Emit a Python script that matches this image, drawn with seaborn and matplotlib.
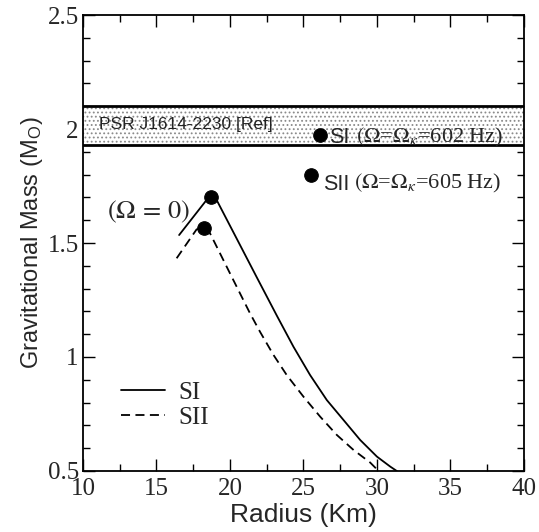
import matplotlib
matplotlib.use("Agg")
import matplotlib.pyplot as plt
import seaborn as sns
import numpy as np
import pandas as pd

# Courbes masse-rayon
si_radius = [16.54, 18.41, 18.68, 19.09, 20.46, 21.82, 23.2, 24.32, 25.45, 26.59,
             27.72, 28.86, 30.0, 30.91, 31.35]
si_mass = [1.535, 1.689, 1.703, 1.689, 1.519, 1.350, 1.18, 1.045, 0.921, 0.811,
           0.724, 0.636, 0.563, 0.519, 0.50]

sii_radius = [16.37, 17.73, 18.18, 18.64, 20.0, 21.36, 22.05, 22.95, 23.87, 25.0,
              26.14, 27.27, 28.41, 29.54, 30.11]
sii_mass = [1.433, 1.56, 1.565, 1.543, 1.367, 1.192, 1.11, 1.01, 0.92, 0.826,
            0.738, 0.658, 0.592, 0.537, 0.50]

# Points : maximum statique et rotation Kepler
dot_radius = [18.7, 18.22, 26.1, 25.5]
dot_mass = [1.703, 1.565, 1.975, 1.80]

# Bande PSR J1614-2230
band_low, band_high = 1.93, 2.10

sns.set_theme(style="ticks")
plt.rcParams["font.family"] = ["Liberation Serif", "DejaVu Serif"]
plt.rcParams["mathtext.fontset"] = "stix"
plt.rcParams["hatch.linewidth"] = 0.8

SANS = ["Liberation Sans", "DejaVu Sans"]

df = pd.concat([
    pd.DataFrame({"radius": si_radius, "mass": si_mass, "model": "SI"}),
    pd.DataFrame({"radius": sii_radius, "mass": sii_mass, "model": "SII"}),
])
dots = pd.DataFrame({"radius": dot_radius, "mass": dot_mass})

fig = plt.figure(figsize=(5.39, 5.32), dpi=100)
ax = fig.add_axes([0.154, 0.1147, 0.818, 0.857])

# Bande d'observation (pointillés gris + bords noirs)
ax.fill_between([10, 40], band_low, band_high, facecolor="white",
                edgecolor="#8a8a8a", hatch="....", linewidth=0, zorder=1)
ax.axhline(band_low, color="black", lw=2, zorder=2)
ax.axhline(band_high, color="black", lw=2, zorder=2)
ax.text(11.1, 2.018, "PSR J1614-2230 [Ref]", family=SANS, fontsize=12.5,
        va="center", ha="left", color="#222222", zorder=3)

sns.lineplot(data=df, x="radius", y="mass", style="model", sort=False,
             dashes={"SI": "", "SII": (5, 3)}, color="black", lw=1.3,
             ax=ax, legend=True, zorder=4)
sns.scatterplot(data=dots, x="radius", y="mass", color="black", s=95,
                edgecolor="black", ax=ax, zorder=5)

# Annotations
ax.text(11.63, 1.636, r"$(\Omega\,=\,0)$", fontsize=19, va="center", ha="left")
ax.text(26.75, 1.965, "SI", family=SANS, fontsize=15.5, va="center", ha="left")
ax.text(28.6, 1.965, r"$(\Omega$=$\Omega_{\kappa}$=602 Hz)", fontsize=16,
        va="center", ha="left")
ax.text(26.3, 1.755, "SII", family=SANS, fontsize=15.5, va="center", ha="left")
ax.text(28.45, 1.76, r"$(\Omega$=$\Omega_{\kappa}$=605 Hz)", fontsize=16,
        va="center", ha="left")

ax.set_xlim(10, 40)
ax.set_ylim(0.5, 2.5)
ax.set_xticks([10, 15, 20, 25, 30, 35, 40])
ax.set_xticklabels(["10", "15", "20", "25", "30", "35", "40"])
ax.set_yticks([0.5, 1, 1.5, 2, 2.5])
ax.set_yticklabels(["0.5", "1", "1.5", "2", "2.5"])
ax.set_xticks(np.arange(10, 40.1, 2.5), minor=True)
ax.set_yticks(np.arange(0.5, 2.51, 0.1), minor=True)
ax.tick_params(which="both", direction="in", top=True, right=True, color="black")
ax.tick_params(which="major", length=8.5, width=1, labelsize=18)
ax.tick_params(which="minor", length=5, width=1)
ax.tick_params(axis="x", pad=5)
ax.tick_params(axis="y", pad=3)
for s in ax.spines.values():
    s.set_color("black")
    s.set_linewidth(1.3)

ax.set_xlabel("Radius (Km)", family=SANS, fontsize=19, labelpad=2)
ax.set_ylabel(r"Gravitational Mass (M$_\mathregular{O}$)", family=SANS,
              fontsize=17, labelpad=2)

handles, labels = ax.get_legend_handles_labels()
leg = ax.legend(handles=handles[-2:], labels=["SI", "SII"], frameon=False,
                loc="upper left", bbox_to_anchor=(0.0855, 0.197), fontsize=18,
                handlelength=1.76, handletextpad=0.56, labelspacing=0.12,
                borderpad=0, borderaxespad=0)
for line in leg.get_lines():
    line.set_linewidth(1.3)

fig.savefig("out.png", dpi=100)
